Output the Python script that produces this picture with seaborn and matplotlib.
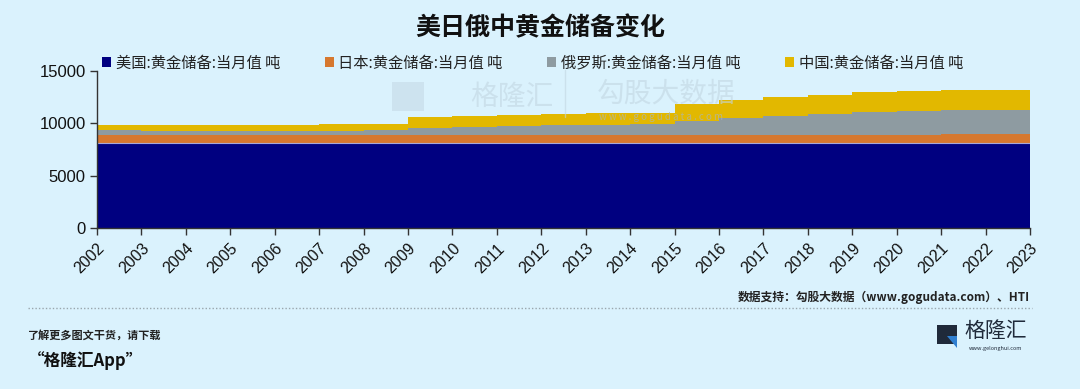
import numpy as np
import matplotlib
matplotlib.use("Agg")
import matplotlib.pyplot as plt
from matplotlib.patches import Patch, Rectangle, Polygon
from matplotlib.lines import Line2D
import seaborn as sns

# -------------------
# DATA (tons)
# -------------------
years = [2002, 2003, 2004, 2005, 2006, 2007, 2008, 2009, 2010, 2011, 2012,
         2013, 2014, 2015, 2016, 2017, 2018, 2019, 2020, 2021, 2022, 2023]
us = [8149, 8134, 8134, 8134, 8134, 8134, 8134, 8134, 8134, 8134, 8134,
      8134, 8134, 8134, 8134, 8134, 8134, 8134, 8134, 8134, 8134, 8134]
japan = [765, 765, 765, 765, 765, 765, 765, 765, 765, 765, 765,
         765, 765, 765, 765, 765, 765, 765, 765, 846, 846, 846]
russia = [420, 390, 390, 390, 390, 420, 490, 620, 720, 830, 920,
          1000, 1050, 1300, 1580, 1770, 2000, 2180, 2280, 2290, 2300, 2330]
china = [550, 600, 600, 600, 600, 600, 600, 1054, 1054, 1054, 1054,
         1054, 1054, 1700, 1790, 1830, 1850, 1948, 1948, 1948, 1948, 2010]

labels = ["美国:黄金储备:当月值 吨", "日本:黄金储备:当月值 吨",
          "俄罗斯:黄金储备:当月值 吨", "中国:黄金储备:当月值 吨"]
colors = ["#000080", "#d6782f", "#8e9ba1", "#e2b800"]
yticks = [0, 5000, 10000, 15000]

BG = "#daf2fd"

# -------------------
# STYLE
# -------------------
sns.set_theme(style="white")
plt.rcParams["font.family"] = ["Noto Sans CJK SC", "DejaVu Sans"]

fig = plt.figure(figsize=(10.8, 3.89), dpi=100, facecolor=BG)
ax = fig.add_axes([0.0898, 0.413, 0.8639, 0.4045])
ax.set_facecolor(BG)

# -------------------
# STACKED AREAS
# -------------------
series = [us, japan, russia, china]
base = np.zeros(len(years))
for vals, col in zip(series, colors):
    top = base + np.array(vals)
    ax.fill_between(years, base, top, step="post", color=col, linewidth=0)
    base = top
# thin light line on top of US band
ax.step(years, us, where="post", color="#a8a8d8", linewidth=0.8)

ax.set_xlim(2002, 2023)
ax.set_ylim(0, 15000)
ax.set_xticks(years)
ax.set_xticklabels([str(y) for y in years], rotation=45, ha="right",
                   rotation_mode="anchor", fontsize=11.5, color="#111111",
                   family=["Liberation Sans", "DejaVu Sans"])
ax.set_yticks(yticks)
ax.set_yticklabels([str(v) for v in yticks], fontsize=12, color="#111111",
                   family=["Liberation Sans", "DejaVu Sans"])
ax.tick_params(axis="both", which="both", direction="out", length=5,
               width=1, color="#333333", bottom=True, left=True, pad=3)
ax.tick_params(axis="x", pad=4)
for s in ["top", "right"]:
    ax.spines[s].set_visible(False)
for s in ["left", "bottom"]:
    ax.spines[s].set_color("#333333")
    ax.spines[s].set_linewidth(1)
ax.grid(False)

# legend
handles = [Patch(facecolor=c, edgecolor="none") for c in colors]
leg = fig.legend(handles, labels, ncol=4, loc="center left",
                 bbox_to_anchor=(0.082, 0.838), frameon=False,
                 fontsize=11, handlelength=0.6, handleheight=0.6,
                 handletextpad=0.3, columnspacing=2.9)
for t in leg.get_texts():
    t.set_color("#222222")

# watermarks
wm = "#c2d6e2"
fig.text(0.435, 0.75, "格隆汇", fontsize=20, color=wm, alpha=0.6,
         ha="left", va="center")
fig.patches.append(Rectangle((0.363, 0.715), 0.030, 0.075, transform=fig.transFigure,
                             facecolor=wm, alpha=0.5, edgecolor="none"))
fig.add_artist(Line2D([0.523, 0.523], [0.70, 0.82], transform=fig.transFigure,
                      color=wm, linewidth=1, alpha=0.6))
fig.text(0.553, 0.76, "勾股大数据", fontsize=20, color=wm, alpha=0.6,
         ha="left", va="center")
fig.text(0.555, 0.7, "w w w . g o g u d a t a . c o m", fontsize=7, color="#a8b6bf",
         alpha=0.7, ha="left", va="center")

# title
fig.text(0.5, 0.928, "美日俄中黄金储备变化", fontsize=18, fontweight="bold",
         ha="center", va="center", color="#111111")

# -------------------
# FOOTER
# -------------------
fig.text(0.954, 0.236, "数据支持：勾股大数据（www.gogudata.com）、HTI", fontsize=8.5,
         fontweight="bold", ha="right", va="center", color="#222222")
fig.add_artist(Line2D([0.026, 0.956], [0.208, 0.208], transform=fig.transFigure,
                      color="#9aa6ad", linewidth=1, linestyle=(0, (1, 1.5))))
fig.text(0.026, 0.138, "了解更多图文干货，请下载", fontsize=8, fontweight="bold",
         style="italic", ha="left", va="center", color="#222222")
fig.text(0.026, 0.072, "“格隆汇App”", fontsize=12, fontweight="bold",
         style="italic", ha="left", va="center", color="#111111")

# logo
fig.patches.append(Rectangle((0.868, 0.115), 0.018, 0.05, transform=fig.transFigure,
                             facecolor="#1f2a3a", edgecolor="none"))
fig.patches.append(Polygon([[0.877, 0.135], [0.886, 0.135], [0.886, 0.105]],
                           closed=True, transform=fig.transFigure,
                           facecolor="#2f7fd0", edgecolor="none"))
fig.text(0.922, 0.148, "格隆汇", fontsize=15, ha="center", va="center",
         color="#1f2a3a")
fig.text(0.922, 0.105, "www.gelonghui.com", fontsize=4, ha="center", va="center",
         color="#1f2a3a")

fig.savefig("out.png", dpi=100, facecolor=BG)
